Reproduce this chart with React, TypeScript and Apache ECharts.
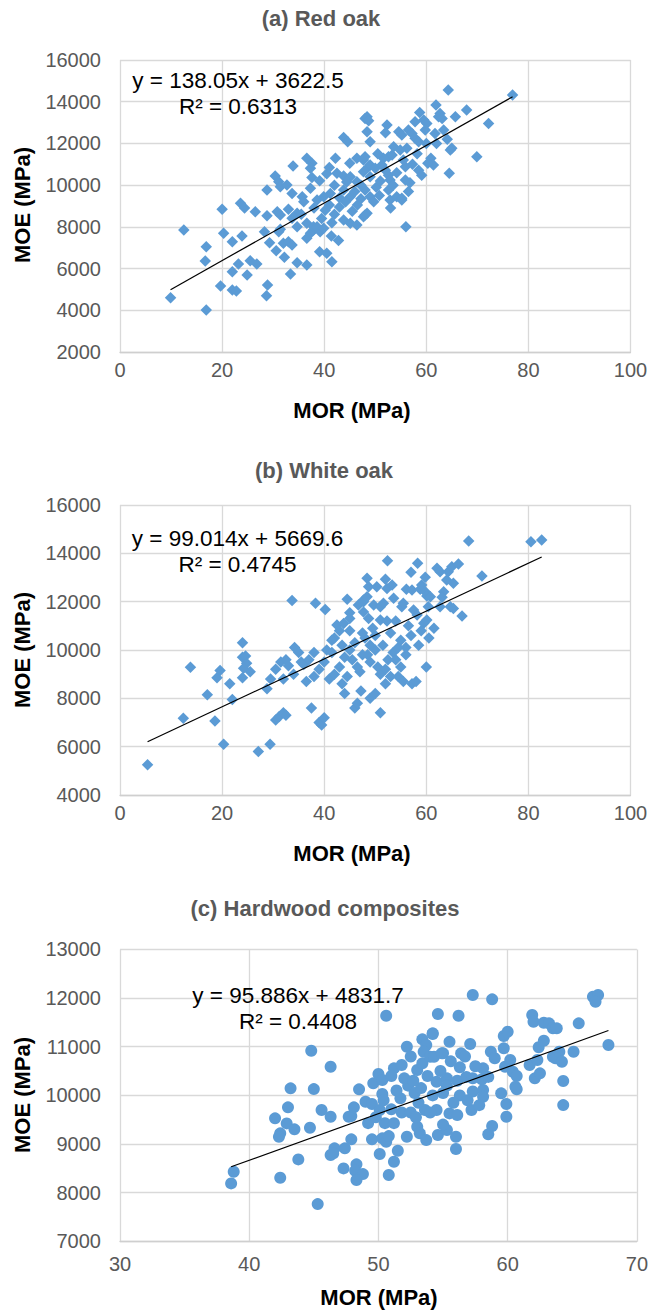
import React, { useEffect, useRef } from "react";
import * as echarts from "echarts";

// (a) Red oak: [MOR, MOE]
const redOak: number[][] = [
  [9.9,4600],[12.5,7850],[16.9,7050],[16.7,6360],[16.9,4010],
  [20.0,8840],[20.3,7690],[19.7,5160],[22.0,7290],[22.0,5850],[22.0,4970],[22.8,4920],[23.2,6220],[23.9,7560],[23.6,9130],[24.4,8900],[24.9,5690],[25.5,6380],[26.5,8730],[26.8,6220],
  [28.8,8530],[28.3,7770],[28.9,5210],[28.7,4700],[29.3,7240],[28.8,9770],[30.4,10440],[31.1,10160],[30.6,6860],[30.8,8730],[31.4,8570],[31.1,7770],[31.4,7880],[31.4,9920],[32.7,10010],[32.0,7210],[32.2,6540],[33.0,7290],[33.7,7130],[33.4,5740],[33.0,8840],[33.7,8410],[33.7,9600],[33.9,10920],[34.7,8650],[34.7,8010],[34.7,6280],[35.7,9440],
  [36.6,11290],[37.6,11050],[37.3,10810],[37.6,10370],[37.3,9850],[36.6,7450],[37.3,7690],[37.9,7850],[36.6,6170],[36.6,8170],[37.9,8010],[38.6,8010],[39.2,7770],[39.1,10210],[39.1,6810],[38.6,9290],[39.9,9440],[39.9,7930],[40.5,6730],[41.2,9600],[41.5,6330],[41.4,7560],[42.2,11290],[42.5,10570],[42.8,7340],
  [43.8,12290],[43.8,10440],[43.8,9770],[43.8,8330],[44.6,12080],[45.1,10400],[45.1,9440],[45.1,8170],[46.4,11290],[46.4,10160],[46.4,8090],[47.7,11200],[47.7,8490],[48.0,13200],[48.4,12560],[48.7,10880],[48.4,8650],[49.0,10400],[48.4,13280],[48.7,13090],[49.0,12080],[48.0,11360],[49.0,10960],[50.0,10810],[47.7,10640],[48.0,9770],[49.0,9440],[49.7,9200],[48.0,8570],[52.9,9290],[55.2,9290],[56.0,8010],
  [51.3,10960],[52.0,10720],[52.6,10480],[52.9,10250],[52.3,12880],[52.0,12510],[51.6,11290],[52.6,11360],[53.3,11440],[53.6,11840],[54.9,11680],[56.2,11770],[54.6,12560],[55.2,12400],[56.5,12640],[57.2,12480],[57.8,12250],[58.5,12080],[57.8,13040],[59.5,13120],[60.1,12960],[58.7,13480],[59.8,12640],[61.7,12480],[63.4,12640],[64.1,12200],[61.9,13840],[62.7,13440],[62.4,13280],[63.1,13200],[65.7,13280],[64.3,14560],[67.9,13600],[72.2,12960],[76.9,14320],[65.0,11770],[64.7,11680],[69.9,11360],[60.9,11290],[61.4,10960],[55.9,10880],[58.5,10720],[59.1,10480],[64.5,10570],[55.9,10250],[56.8,10120],[52.6,9770],[54.2,9440],[55.2,9370],
  [40.2,8800],[41.0,9050],[42.0,8600],[43.0,8950],[44.2,9200],[45.5,8750],[46.5,9050],[47.2,9350],[42.0,10000],[44.4,10150],[46.0,9700],[47.2,10000],[40.5,10550],[41.0,10850],[45.0,11050],[43.0,9400],[50.2,9900],[51.0,10200],[50.5,11500],[53.5,10000],[54.2,10600],[55.5,11200],[57.3,11000],[56.5,9700],[58.2,11500],[60.0,12000],[60.3,11050],[62.0,12000],[39.5,8400],[41.5,8200],[38.0,8900],[35.5,8600],[36.0,9200],[50.8,9500],[53.0,8900]
];

// (b) White oak: [MOR, MOE]
const whiteOak: number[][] = [
  [5.4,5250],[12.4,7180],[13.8,9290],[17.1,8150],[18.6,7060],[19.0,8850],[19.6,9150],[20.3,6100],[21.5,8600],[22.0,7950],
  [24.0,10300],[24.0,9700],[24.6,9750],[24.8,9450],[24.2,9250],[24.0,8850],[25.5,9100],[27.1,5800],[29.4,6100],[28.8,8400],
  [30.5,7100],[31.2,7250],[32.0,7400],[32.5,7300],[31.5,9500],[32.5,9600],[32.0,8800],[33.0,9350],[33.7,12050],[34.2,10100],
  [35.0,9900],[35.5,9500],[36.0,9400],[37.5,7600],[38.0,8900],[38.3,11930],[38.0,9900],[39.0,7000],[39.5,6900],[40.0,7200],
  [40.2,11680],[39.0,9200],[40.5,10000],[40.0,9500],[41.0,8800],[41.5,9900],[42.0,10500],[42.5,11030],[43.0,9300],[43.8,11100],
  [43.5,10200],[44.0,8200],[44.5,12100],[44.0,9700],[45.0,11540],[45.0,10800],[45.5,9600],[46.0,7600],[46.5,7800],[46.7,11860],
  [46.0,10300],[47.0,9100],[47.2,8300],[47.7,12070],[48.0,10500],[48.4,12965],[48.7,12617],[48.5,9800],[49.0,8000],[49.5,10900],
  [49.7,11860],[50.0,8200],[50.3,12617],[50.5,9300],[51.0,11790],[51.0,7400],[51.5,10200],[51.6,11930],[52.0,12924],[52.3,12550],
  [52.4,13694],[52.0,8600],[52.5,9600],[53.3,12688],[53.6,12137],[53.0,10700],[53.5,9900],[54.0,11200],[54.5,8900],[55.2,11790],
  [55.5,11930],[55.0,10400],[55.5,8700],[56.1,12510],[56.0,9800],[57.0,13213],[57.2,12481],[57.5,11653],[57.0,10600],[57.2,8600],
  [58.2,11446],[58.3,13585],[58.8,12510],[58.5,10200],[58.0,8700],[59.1,12688],[59.5,11102],[59.8,13006],[59.8,12411],[60.1,12233],
  [60.1,11239],[60.4,11790],[60.8,12204],[60.0,9300],[60.5,10500],[62.1,13379],[62.7,13238],[62.7,11790],[63.4,12411],[63.1,12179],
  [64.0,12895],[64.3,13238],[64.7,11790],[65.0,13446],[65.3,12758],[65.3,11720],[66.3,13558],[67.0,11405],[68.3,14510],[70.9,13060],
  [80.5,14480],[82.6,14551],[47.7,11997],[48.4,12204],[48.7,11300],[47.7,11570],[51.0,11240],[52.3,11200],
  [42.0,9000],[43.5,8600],[44.5,8900],[45.0,10000],[46.5,9300],[47.5,9800],[49.0,9500],[50.0,10000],[51.0,9000],[52.0,9200],
  [53.0,8900],[54.0,9600],[55.0,9300],[56.0,10100],[56.5,11000],[54.5,10100],[50.0,10600],[49.0,10200],[47.5,10700],[45.0,11300],
  [43.0,10800],[41.5,10400],[36.5,8700],[37.0,9600],[34.0,9000],[30.5,9200],[29.5,8800],[61.5,10900],[59.0,10800]
];

// (c) Hardwood composites: [MOR, MOE]
const composites: number[][] = [
  [38.8,8431],[38.6,8192],[42.4,8307],[45.3,7767],[42.0,9528],[42.4,9220],[42.3,9150],[42.9,9425],[43.5,9302],[43.0,9754],
  [43.2,10145],[43.8,8685],[44.7,9336],[44.8,10918],[45.0,10130],[45.6,9699],[46.3,10589],[46.3,9561],[46.6,8912],[46.3,8774],
  [46.5,8808],[47.4,8912],[47.3,8500],[47.7,9561],[47.9,9575],[47.9,9097],[48.1,9754],[48.3,8583],[48.2,8451],[48.8,8383],
  [48.3,8260],[48.5,10124],[49.0,9870],[49.5,9822],[49.2,9430],[49.5,9097],[49.6,10248],[50.0,10439],[50.3,10315],[50.3,10028],
  [50.1,9699],[50.1,8795],[50.3,9117],[50.6,9047],[50.8,9164],[50.8,8363],[50.6,11637],[50.5,9430],[51.0,9713],[51.2,10556],
  [51.2,8636],[51.5,8862],[51.2,9430],[51.7,9939],[51.8,10624],[51.4,10100],[51.8,9650],[52.2,11000],[52.2,9150],[52.3,10200],
  [52.5,9650],[52.8,10050],[53.0,10521],[53.4,10659],[53.4,11152],[53.7,11035],[53.5,10897],[53.0,9356],[53.2,9220],[53.7,9082],
  [53.3,10150],[53.6,9700],[54.0,10795],[54.2,11261],[54.6,11672],[54.2,11275],[54.2,10000],[54.5,10280],[54.6,9185],[54.3,10795],
  [54.5,9699],[54.0,9650],[55.0,10864],[54.9,10864],[55.3,9288],[55.3,10350],[55.0,10050],[55.3,10200],[55.5,9630],[56.2,11637],
  [56.4,10864],[56.1,10300],[56.3,10576],[56.3,10000],[56.1,9596],[56.8,10380],[57.1,11056],[57.3,12063],[57.3,10350],[57.3,10080],
  [57.2,9699],[58.0,10330],[58.1,10556],[58.1,10110],[58.1,9970],[58.5,10380],[58.7,10897],[58.8,11974],[59.0,10762],[58.8,9370],
  [59.5,10042],[59.7,11220],[59.7,10967],[59.8,10589],[59.9,9822],[59.9,9561],[60.0,11308],[60.2,10726],[60.4,10486],[60.7,10398],
  [60.6,10178],[60.7,10124],[61.7,10624],[61.9,11652],[62.0,11514],[62.1,10350],[62.3,10726],[62.4,10988],[62.5,10453],[62.8,11124],
  [62.8,11493],[63.2,11480],[63.5,11378],[63.8,11378],[63.5,10795],[63.7,10762],[64.0,10897],[64.2,10692],[64.3,10295],[64.3,9801],
  [65.1,10897],[65.5,11480],[66.6,12028],[67.0,12063],[66.8,11925],[67.8,11035],
  [52.0,10350],[52.7,10300],[53.8,10400],[54.8,10500],[55.6,10700],[56.7,10800],[55.8,9850],[56.9,9900],[53.1,9850],[52.9,9550],
  [55.0,9400],[56.0,9150],[57.8,9800],[57.5,10600],[55.5,11100],[52.5,10800],[51.0,10400],[50.4,9900],[49.8,9550],[58.5,9200],[56.0,8900]
];

const titles = ["(a) Red oak", "(b) White oak", "(c) Hardwood composites"];
const slopes = [138.05, 99.014, 95.886];
const intercepts = [3622.5, 5669.6, 4831.7];
const rSquared = ["0.6313", "0.4745", "0.4408"];
const xMin = [0, 0, 30];
const xMax = [100, 100, 70];
const xStep = [20, 20, 10];
const yMin = [2000, 4000, 7000];
const yMax = [16000, 16000, 13000];
const yStep = [2000, 2000, 1000];
const xAxisName = "MOR (MPa)";
const yAxisName = "MOE (MPa)";
const symbols = ["diamond", "diamond", "circle"];

const FONT = "'Liberation Sans', Arial, Helvetica, sans-serif";

export default function App() {
  const ref = useRef<HTMLDivElement>(null);
  useEffect(() => {
    if (!ref.current) return;
    const chart = echarts.init(ref.current, null, { renderer: "svg" });
    const datasets = [redOak, whiteOak, composites];
    const grids = [
      { left: 120, top: 60, width: 510.5, height: 292 },
      { left: 120, top: 505, width: 510.5, height: 290 },
      { left: 120, top: 949.4, width: 517, height: 292 },
    ];
    const titleY = [18, 470, 908];
    const titleX = [321, 324, 325];
    const xNameY = [410, 853, 1297];
    const xNameX = [352, 352, 379];
    const yNameY = [205, 650, 1095];
    const eqX = [238, 237.5, 298];
    const eqY = [80, 538, 995];
    const xLabelMargin = [8, 8, 13];
    const symbolSizes = [11.5, 11.5, 12];

    const graphic: any[] = [];
    for (let i = 0; i < 3; i++) {
      graphic.push({
        type: "text", x: titleX[i], y: titleY[i], silent: true,
        style: { text: titles[i], fill: "#595959", font: `bold 22px ${FONT}`, textAlign: "center", textVerticalAlign: "middle" },
      });
      graphic.push({
        type: "text", x: xNameX[i], y: xNameY[i], silent: true,
        style: { text: xAxisName, fill: "#000", font: `bold 22px ${FONT}`, textAlign: "center", textVerticalAlign: "middle" },
      });
      graphic.push({
        type: "text", x: 22, y: yNameY[i], rotation: Math.PI / 2, silent: true,
        style: { text: yAxisName, fill: "#000", font: `bold 22px ${FONT}`, textAlign: "center", textVerticalAlign: "middle" },
      });
      graphic.push({
        type: "text", x: eqX[i], y: eqY[i], silent: true, z: 100,
        style: { text: `y = ${slopes[i]}x + ${intercepts[i]}`, fill: "#000", font: `22.5px ${FONT}`, textAlign: "center", textVerticalAlign: "middle" },
      });
      graphic.push({
        type: "text", x: eqX[i], y: eqY[i] + 26, silent: true, z: 100,
        style: { text: `R² = ${rSquared[i]}`, fill: "#000", font: `22.5px ${FONT}`, textAlign: "center", textVerticalAlign: "middle" },
      });
    }

    const series: any[] = [];
    datasets.forEach((d, i) => {
      series.push({
        type: "scatter", xAxisIndex: i, yAxisIndex: i, data: d,
        symbol: symbols[i], symbolSize: symbolSizes[i],
        itemStyle: { color: "#5B9BD5", opacity: 1 }, z: 2,
      });
      const xs = d.map((p) => p[0]);
      const lo = Math.min(...xs);
      const hi = Math.max(...xs);
      series.push({
        type: "line", xAxisIndex: i, yAxisIndex: i, silent: true,
        data: [[lo, slopes[i] * lo + intercepts[i]], [hi, slopes[i] * hi + intercepts[i]]],
        showSymbol: false, symbol: "none",
        lineStyle: { color: "#000", width: 1.2 }, z: 5,
      });
    });

    const plain = (v: number) => String(v);
    const option: any = {
      animation: false,
      grid: grids,
      xAxis: [0, 1, 2].map((i) => ({
        type: "value", gridIndex: i, min: xMin[i], max: xMax[i], interval: xStep[i],
        axisLine: { show: true, lineStyle: { color: "#cfcfcf", width: 1.3 } },
        axisTick: { show: false },
        splitLine: { show: true, lineStyle: { color: "#d9d9d9", width: 1.3 } },
        axisLabel: { color: "#595959", fontSize: 20, fontFamily: FONT, margin: xLabelMargin[i], formatter: plain },
      })),
      yAxis: [0, 1, 2].map((i) => ({
        type: "value", gridIndex: i, min: yMin[i], max: yMax[i], interval: yStep[i],
        axisLine: { show: false },
        axisTick: { show: false },
        splitLine: { show: true, lineStyle: { color: "#d9d9d9", width: 1.3 } },
        axisLabel: { color: "#595959", fontSize: 20, fontFamily: FONT, margin: 19, formatter: plain },
      })),
      series,
      graphic,
    };
    chart.setOption(option);
    return () => chart.dispose();
  }, []);
  return <div ref={ref} style={{ position: "absolute", left: 0, top: 0, width: 651, height: 1310 }} />;
}
